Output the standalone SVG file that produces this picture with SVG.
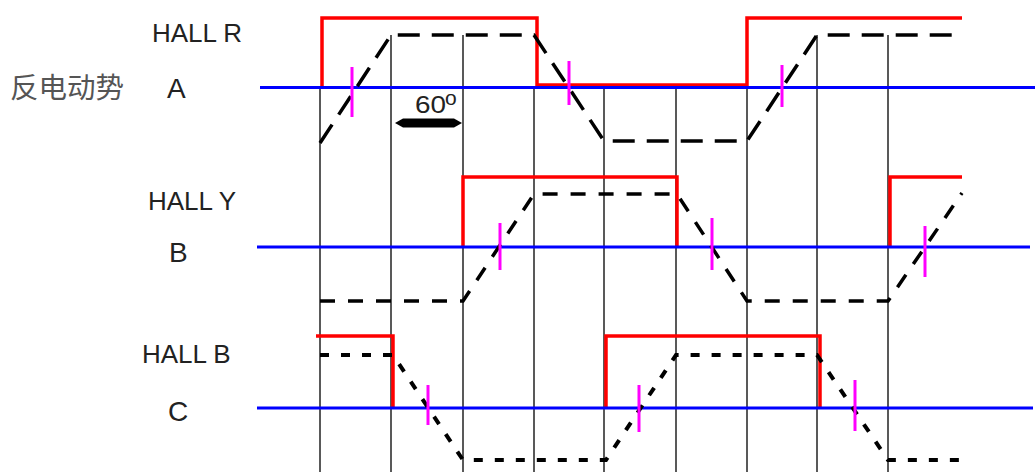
<svg xmlns="http://www.w3.org/2000/svg" width="1035" height="472" viewBox="0 0 1035 472">
<style>
.lbl{font-family:"Liberation Sans",Arial,sans-serif;fill:#222}
.grid{stroke:#222;stroke-width:1.5;fill:none}
.axis{stroke:#0000ff;stroke-width:3;fill:none}
.hall{stroke:#ff0000;stroke-width:3.5;fill:none}
.emf{stroke:#000;fill:none}
.tick{stroke:#ff00ff;stroke-width:3;fill:none}
</style>
<rect width="1035" height="472" fill="#fff"/>
<g id="grid" class="grid">
<line x1="320" y1="88" x2="320" y2="472"/>
<line x1="391" y1="35" x2="391" y2="472"/>
<line x1="463" y1="35" x2="463" y2="472"/>
<line x1="534" y1="88" x2="534" y2="472"/>
<line x1="604" y1="88" x2="604" y2="472"/>
<line x1="676" y1="88" x2="676" y2="472"/>
<line x1="747" y1="88" x2="747" y2="472"/>
<line x1="817" y1="35" x2="817" y2="472"/>
<line x1="888" y1="35" x2="888" y2="472"/>
</g>
<g id="hall-signals" class="hall">
<path d="M322,88 V18 H537 V85 H747 V18 H962"/>
<path d="M463,247 V177 H677 V247"/>
<path d="M890,247 V177 H962"/>
<path d="M316,336 H393 V408"/>
<path d="M606,408 V336 H820 V408"/>
</g>
<g id="axes" class="axis">
<line x1="260" y1="87.5" x2="1035" y2="87.5"/>
<line x1="257" y1="247" x2="1030" y2="247"/>
<line x1="257" y1="408" x2="1033" y2="408"/>
</g>
<g id="back-emf">
<path class="emf" stroke-width="3.5" stroke-dasharray="22 12" d="M320,143 L391,35 L534,35 L604,141 L747,141 L817,35 L962,35"/>
<path class="emf" stroke-width="3.5" stroke-dasharray="15 13" d="M320,301 L463,301 L534,194 L677,194 L747,301 L888,301 L962,193"/>
<path class="emf" stroke-width="4" stroke-dasharray="9 12" d="M320,355 L393,355 L463,460 L606,460 L676,355 L817,355 L888,460 L962,460"/>
</g>
<g id="zero-crossings" class="tick">
<line x1="352" y1="67" x2="352" y2="117"/>
<line x1="569" y1="61" x2="569" y2="105"/>
<line x1="782" y1="65" x2="782" y2="107"/>
<line x1="500" y1="223" x2="500" y2="270"/>
<line x1="712" y1="218" x2="712" y2="270"/>
<line x1="925" y1="226" x2="925" y2="277"/>
<line x1="428" y1="385" x2="428" y2="425"/>
<line x1="639" y1="385" x2="639" y2="432"/>
<line x1="855" y1="380" x2="855" y2="431"/>
</g>
<g id="angle-60">
<path d="M395,123 L403,118.5 L454,118.5 L462,123 L454,127.5 L403,127.5 Z" fill="#000"/>
<text class="lbl" x="415" y="113" font-size="24" textLength="31" lengthAdjust="spacingAndGlyphs">60</text>
<text class="lbl" x="445" y="105" font-size="21">o</text>
</g>
<g id="labels">
<text x="10" y="98" font-size="28.5" style="font-family:'Noto Sans CJK SC','Noto Sans',sans-serif;fill:#555">反电动势</text>
<text class="lbl" x="152" y="42" font-size="26">HALL R</text>
<text class="lbl" x="167" y="98" font-size="28">A</text>
<text class="lbl" x="148" y="210" font-size="26">HALL Y</text>
<text class="lbl" x="169" y="262" font-size="28">B</text>
<text class="lbl" x="142" y="363" font-size="26">HALL B</text>
<text class="lbl" x="168" y="421" font-size="28">C</text>
</g>
</svg>
